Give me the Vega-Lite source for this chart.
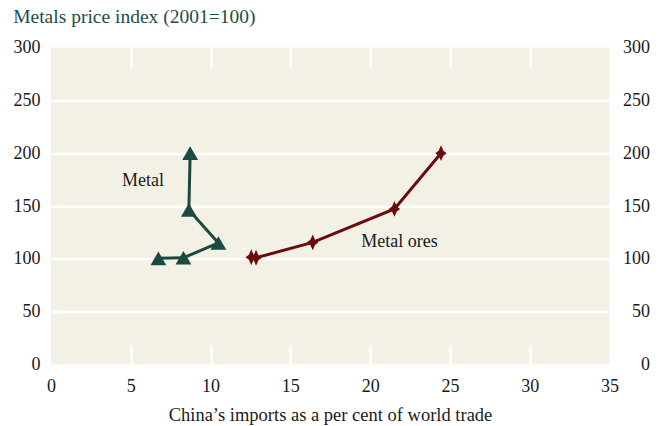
{
  "$schema": "https://vega.github.io/schema/vega-lite/v6.json",
  "autosize": {"type": "none"},
  "width": 558.5,
  "height": 317,
  "padding": {"left": 51, "top": 47.5, "right": 52.5, "bottom": 61.5},
  "config": {
    "view": {"fill": "#f3f1e5", "stroke": null},
    "font": "Liberation Serif",
    "axis": {
      "domain": false,
      "labelFlush": false,
      "labelOverlap": false,
      "labelFont": "Liberation Serif",
      "labelFontSize": 18,
      "labelColor": "#1a1a1a",
      "titleFont": "Liberation Serif",
      "titleFontWeight": "normal",
      "titleColor": "#1a1a1a"
    }
  },
  "datasets": {
    "series": [
      {"series": "Metal", "step": 1, "share": 6.73, "index": 100.5},
      {"series": "Metal", "step": 2, "share": 8.3, "index": 101},
      {"series": "Metal", "step": 3, "share": 10.49, "index": 115},
      {"series": "Metal", "step": 4, "share": 8.64, "index": 146.2},
      {"series": "Metal", "step": 5, "share": 8.72, "index": 200},
      {"series": "Metal ores", "step": 1, "share": 12.55, "index": 101.5},
      {"series": "Metal ores", "step": 2, "share": 12.85, "index": 101},
      {"series": "Metal ores", "step": 3, "share": 16.4, "index": 115.6},
      {"series": "Metal ores", "step": 4, "share": 21.52, "index": 147.2},
      {"series": "Metal ores", "step": 5, "share": 24.44, "index": 200}
    ],
    "notes": [
      {"label": "Metal", "share": 5.77, "index": 173.2},
      {"label": "Metal ores", "share": 21.84, "index": 115.5}
    ]
  },
  "layer": [
    {
      "data": {"name": "series"},
      "mark": {"type": "line", "strokeWidth": 3},
      "encoding": {
        "x": {
          "field": "share",
          "type": "quantitative",
          "scale": {"domain": [0, 35], "nice": false, "zero": false},
          "axis": {
            "orient": "bottom",
            "values": [0, 5, 10, 15, 20, 25, 30, 35],
            "grid": false,
            "ticks": true,
            "tickSize": -19.5,
            "tickWidth": 2.5,
            "tickColor": "white",
            "tickOpacity": {"condition": {"test": "datum.value == 0 || datum.value == 35", "value": 0}, "value": 1},
            "labelPadding": 32.5,
            "title": "China’s imports as a per cent of world trade",
            "titleFontSize": 18.5,
            "titleBaseline": "alphabetic",
            "titleAlign": "center",
            "titleX": 279,
            "titleY": 55.5
          }
        },
        "y": {
          "field": "index",
          "type": "quantitative",
          "scale": {"domain": [0, 300], "nice": false},
          "axis": {
            "orient": "left",
            "values": [0, 50, 100, 150, 200, 250, 300],
            "grid": true,
            "gridColor": "white",
            "gridWidth": 2.5,
            "gridOpacity": {"condition": {"test": "datum.value == 0 || datum.value == 300", "value": 0}, "value": 1},
            "ticks": false,
            "labelPadding": 11,
            "labelAlign": "right",
            "labelBaseline": "middle",
            "title": "Metals price index (2001=100)",
            "titleAngle": 0,
            "titleAlign": "left",
            "titleBaseline": "alphabetic",
            "titleX": -38.3,
            "titleY": -24.8,
            "titleFontSize": 19.5,
            "titleColor": "#1d4d44"
          }
        },
        "color": {
          "field": "series",
          "type": "nominal",
          "scale": {"domain": ["Metal", "Metal ores"], "range": ["#1b4a40", "#6b0b0d"]},
          "legend": null
        },
        "order": {"field": "step", "type": "quantitative"}
      }
    },
    {
      "data": {"name": "series"},
      "mark": {"type": "point", "filled": true, "opacity": 1, "size": 250},
      "encoding": {
        "x": {"field": "share", "type": "quantitative", "axis": null},
        "y": {"field": "index", "type": "quantitative", "axis": null},
        "color": {
          "field": "series",
          "type": "nominal",
          "scale": {"domain": ["Metal", "Metal ores"], "range": ["#1b4a40", "#6b0b0d"]},
          "legend": null
        },
        "shape": {
          "field": "series",
          "type": "nominal",
          "scale": {
            "domain": ["Metal", "Metal ores"],
            "range": ["triangle-up", "M0,-1L0.3,-0.32L0.72,0L0.3,0.32L0,1L-0.3,0.32L-0.72,0L-0.3,-0.32Z"]
          },
          "legend": null
        }
      }
    },
    {
      "data": {"name": "notes"},
      "mark": {"type": "text", "font": "Liberation Serif", "fontSize": 18, "color": "#1a1a1a", "align": "center", "baseline": "middle"},
      "encoding": {
        "x": {
          "field": "share",
          "type": "quantitative",
          "axis": {
            "orient": "top",
            "values": [0, 5, 10, 15, 20, 25, 30, 35],
            "labels": false,
            "grid": false,
            "ticks": true,
            "tickSize": -19.5,
            "tickWidth": 2.5,
            "tickColor": "white",
            "tickOpacity": {"condition": {"test": "datum.value == 0 || datum.value == 35", "value": 0}, "value": 1},
            "title": null
          }
        },
        "y": {
          "field": "index",
          "type": "quantitative",
          "axis": {
            "orient": "right",
            "values": [0, 50, 100, 150, 200, 250, 300],
            "grid": false,
            "ticks": false,
            "labelAlign": "right",
            "labelBaseline": "middle",
            "labelPadding": 40,
            "title": null
          }
        },
        "text": {"field": "label"}
      }
    }
  ],
  "resolve": {"axis": {"x": "independent", "y": "independent"}}
}
